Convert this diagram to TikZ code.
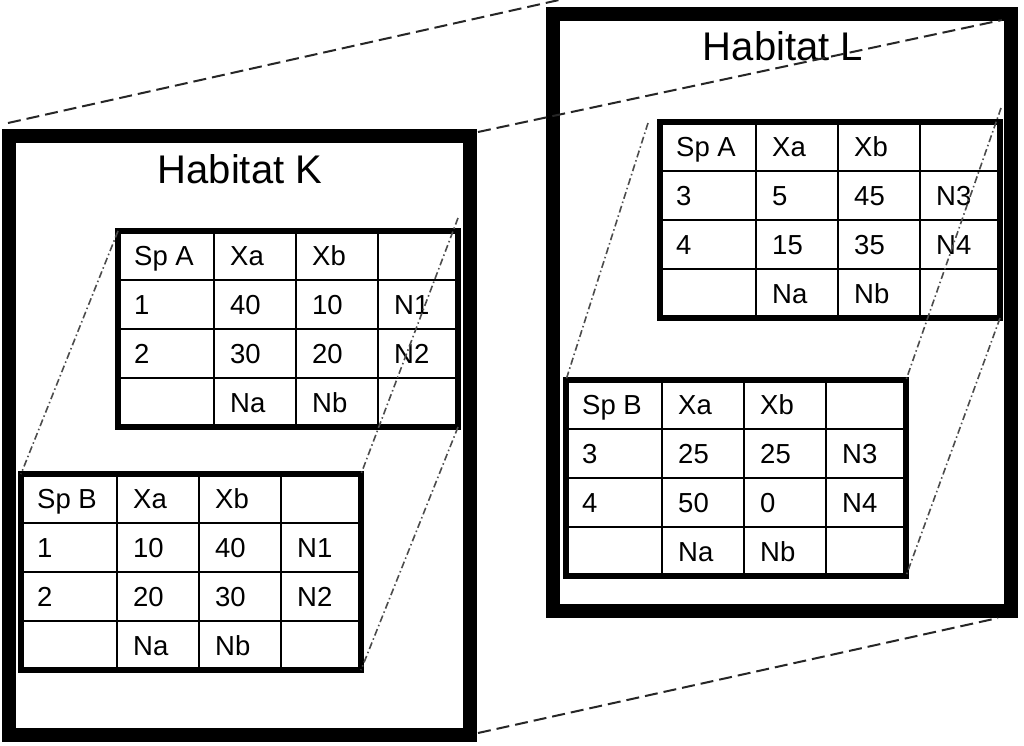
\documentclass[tikz,border=0pt]{standalone}
\usepackage{fontspec}
\setmainfont{Liberation Sans}
\usetikzlibrary{calc}
\newcommand\habtable[4]{%
  \node[tabframe, anchor=north west] (#1) at (#2,#3) {};
  \foreach \cx in {96,178,260} {\draw[gridline] ($(#1.north west)+(\cx,0)$) -- ($(#1.south west)+(\cx,0)$);}
  \foreach \ry in {49,98,147} {\draw[gridline] ($(#1.north west)+(0,\ry)$) -- ($(#1.north east)+(0,\ry)$);}
  \foreach \t [count=\k from 0] in {#4} {%
    \pgfmathtruncatemacro\rr{int(\k/4)}%
    \pgfmathtruncatemacro\cc{mod(\k,4)}%
    \pgfmathsetmacro\cx{{0,96,178,260}[\cc]}%
    \if\relax\detokenize\expandafter{\t}\relax\else
      \node[cell] (#1-\rr-\cc) at ($(#1.north west)+(\cx+16,24.5+49*\rr+9.5)$) {\t};
    \fi
  }%
}
\begin{document}
\begin{tikzpicture}[x=1pt,y=-1pt,
  habbox/.style={draw, line width=14pt, inner sep=0pt, outer sep=0pt},
  tabframe/.style={draw, line width=6.5pt, inner sep=0pt, outer sep=0pt, minimum width=340pt, minimum height=196pt},
  gridline/.style={line width=2pt},
  cell/.style={anchor=base west, inner sep=0pt, font=\fontsize{27.5}{32}\selectfont},
  title/.style={anchor=base, inner sep=0pt, font=\fontsize{40}{46}\selectfont},
  zoomline/.style={line width=2pt, black!85, dash pattern=on 13pt off 6pt},
  linkline/.style={line width=1.6pt, black!70, dash pattern=on 7pt off 3pt on 1.5pt off 3pt}]
\useasboundingbox[fill=white] (0,0) rectangle (1024,745);

% habitat boxes
\node[habbox, minimum width=461pt, minimum height=599pt, anchor=north west] (K) at (9,136) {};
\node[habbox, minimum width=458pt, minimum height=597pt, anchor=north west] (L) at (553,14) {};
\node[title] (Ktitle) at (240,183) {Habitat K};
\node[title] (Ltitle) at (783,60) {Habitat L};

% tables
\habtable{KA}{118}{231}{Sp A, Xa, Xb, {}, 1, 40, 10, N1, 2, 30, 20, N2, {}, Na, Nb, {}}
\habtable{KB}{21}{474}{Sp B, Xa, Xb, {}, 1, 10, 40, N1, 2, 20, 30, N2, {}, Na, Nb, {}}
\habtable{LA}{660}{122}{Sp A, Xa, Xb, {}, 3, 5, 45, N3, 4, 15, 35, N4, {}, Na, Nb, {}}
\habtable{LB}{566}{380}{Sp B, Xa, Xb, {}, 3, 25, 25, N3, 4, 50, 0, N4, {}, Na, Nb, {}}

% dash-dot links between tables
\coordinate (kAtop) at (458,218);
\coordinate (lAtop) at (1001,108);
\coordinate (lAleft) at (648,123);
\draw[linkline] (KA.north west) -- (KB.north west);
\draw[linkline] (kAtop) -- (KB.north east);
\draw[linkline] (KA.south east) -- (KB.south east);
\draw[linkline] (lAleft) -- (LB.north west);
\draw[linkline] (lAtop) -- (LB.north east);
\draw[linkline] (LA.south east) -- (LB.south east);

% dashed zoom lines between habitats
\coordinate (kTL) at (8,123);
\coordinate (lTL) at (559,0);
\coordinate (kTR) at (478,132);
\coordinate (lTR) at (1002,20);
\coordinate (kBR) at (478,733);
\coordinate (lBR) at (998,618);
\draw[zoomline] (kTL) -- (lTL);
\draw[zoomline] (kTR) -- (lTR);
\draw[zoomline] (kBR) -- (lBR);
\end{tikzpicture}
\end{document}
